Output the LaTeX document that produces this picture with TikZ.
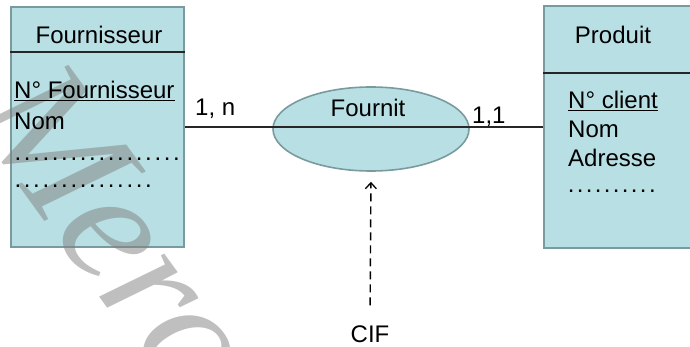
\documentclass[tikz,border=0pt]{standalone}
\usepackage{fontspec}
\setmainfont{Liberation Sans}
\newfontfamily\markfont{Liberation Serif}
\usetikzlibrary{arrows.meta,shapes.geometric}

\definecolor{entfill}{RGB}{184,224,228}
\definecolor{entdraw}{RGB}{122,155,158}

% a row of evenly spaced dots, #1 = total width, #2 = dot pitch
\newcommand{\dotrow}[2]{\hbox to #1{\xleaders\hbox to #2{\hss.\hss}\hfill}}

\tikzset{
  txt/.style={inner sep=0pt, font=\fontsize{24}{28}\selectfont, text=black},
  entity/.style={draw=entdraw, fill=entfill, line width=1.6pt, inner sep=0pt},
  relation/.style={ellipse, draw=entdraw, fill=entfill, line width=1.6pt, inner sep=0pt},
  link/.style={line width=1.4pt, draw=black!85},
  sep/.style={line width=1.2pt, draw=black!85},
  depend/.style={line width=1.4pt, dash pattern=on 8pt off 5pt, -{Straight Barb[length=6pt,width=11pt,line width=1.3pt]}, shorten >=10pt, shorten <=20pt}
}

\begin{document}
\begin{tikzpicture}[x=1pt, y=-1pt]
\useasboundingbox (0,0) rectangle (690,347);
\begin{scope}
\clip (0,0) rectangle (690,347);

% entity Fournisseur
\node[entity, minimum width=173pt, minimum height=240pt] (ent1) at (97.5,127) {};
\draw[sep] (ent1.west |- 0,52) coordinate (d1w) -- (ent1.east |- 0,52) coordinate (d1e);

% entity Produit (runs past the right edge)
\node[entity, minimum width=170pt, minimum height=242pt, anchor=west] (ent2) at (543,127) {};
\draw[sep] (ent2.west |- 0,73) coordinate (d2w) -- (ent2.east |- 0,73) coordinate (d2e);

% association Fournit
\node[relation, minimum width=196pt, minimum height=84pt] (assoc) at (371,129) {};

% link between the two entities through the association
\draw[link] (ent1.east) -- (ent2.west);

% watermark
\node[font=\markfont\itshape\fontsize{170}{170}\selectfont, text=gray, opacity=0.5, rotate=-54, anchor=base west, inner sep=0pt] (mark) at (-32,116) {Mero};

% texts of Fournisseur
\node[txt] (t1) at (99,35) {Fournisseur};
\node[txt, anchor=base west] (k1) at (14,99) {\underline{N° Fournisseur}};
\node[txt, anchor=base west] (a1) at (14,130) {Nom};
\node[txt, anchor=base west] (a2) at (13,161) {\dotrow{168pt}{9.3pt}};
\node[txt, anchor=base west] (a3) at (13,188) {\dotrow{140pt}{9.3pt}};

% texts of Produit
\node[txt] (t2) at (613,35) {Produit};
\node[txt, anchor=base west] (k2) at (568,109) {\underline{N° client}};
\node[txt, anchor=base west] (b1) at (568,138) {Nom};
\node[txt, anchor=base west] (b2) at (568,167) {Adresse};
\node[txt, anchor=base west] (b3) at (566,193) {\dotrow{91pt}{8.3pt}};

% association name and cardinalities
\node[txt] (rname) at (368,108) {Fournit};
\node[txt, anchor=base west] (c1) at (195,116) {1, n};
\node[txt, anchor=base west] (c2) at (472,124) {1,1};

% dependency CIF
\node[txt] (cif) at (370,334) {CIF};
\draw[depend] (cif.north) -- (assoc.south);
\end{scope}
\end{tikzpicture}
\end{document}
